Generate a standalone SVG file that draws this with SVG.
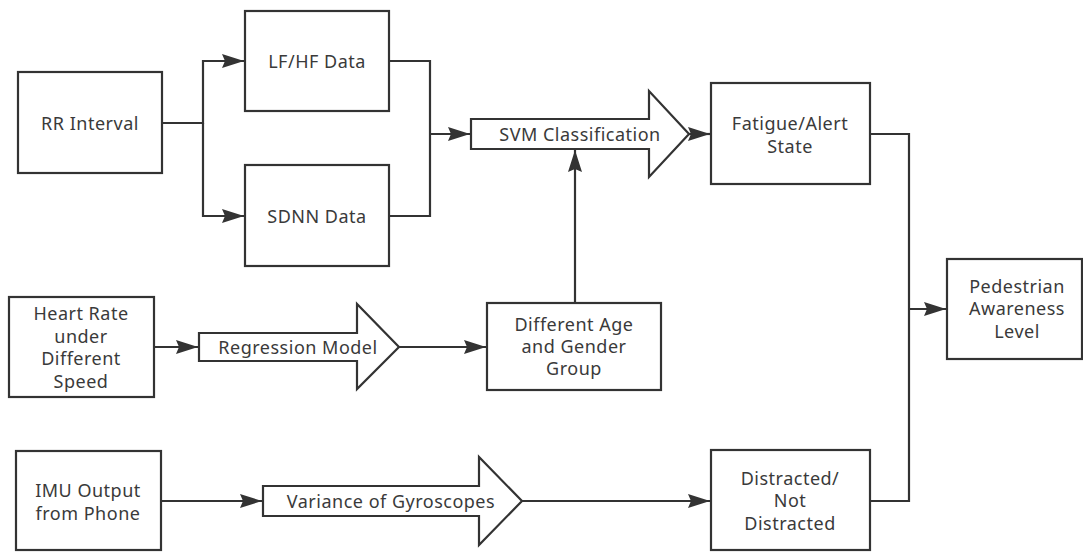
<svg xmlns="http://www.w3.org/2000/svg" width="1083" height="552" viewBox="0 0 1083 552">
<defs>
<style>
.box{fill:#fff;stroke:#333;stroke-width:2.2}
.big{fill:#fff;stroke:#333;stroke-width:2.2;stroke-linejoin:miter}
.t{font-family:"Noto Sans","Open Sans","Liberation Sans",sans-serif;font-size:18px;fill:#3a3a3a;text-anchor:middle;letter-spacing:0.5px}
.c{fill:none;stroke:#333;stroke-width:2.2}
</style>
<marker id="ah" markerUnits="userSpaceOnUse" markerWidth="26" markerHeight="18" viewBox="-22 -9 24 18" refX="0" refY="0" orient="auto">
<path d="M-22,-7 L0,0 L-22,7 L-19,0 z" fill="#333"/>
</marker>
</defs>
<rect width="1083" height="552" fill="#fff"/>
<g id="connectors">
<path class="c" d="M162,123 H203 V61 H244" marker-end="url(#ah)"/>
<path class="c" d="M203,123 V216 H244" marker-end="url(#ah)"/>
<path class="c" d="M389,61 H430 V216 H389"/>
<path class="c" d="M430,134 H470" marker-end="url(#ah)"/>
<path class="c" d="M689,134 H710" marker-end="url(#ah)"/>
<path class="c" d="M575,303 V150" marker-end="url(#ah)"/>
<path class="c" d="M154,347 H198" marker-end="url(#ah)"/>
<path class="c" d="M399,347 H486" marker-end="url(#ah)"/>
<path class="c" d="M161,501 H262" marker-end="url(#ah)"/>
<path class="c" d="M522,501 H710" marker-end="url(#ah)"/>
<path class="c" d="M870,134 H909 V501 H870"/>
<path class="c" d="M909,309 H946" marker-end="url(#ah)"/>
</g>
<g id="rr"><rect class="box" x="18" y="72" width="144" height="101"/><text class="t" x="90" y="130">RR Interval</text></g>
<g id="lfhf"><rect class="box" x="245" y="11" width="144" height="100"/><text class="t" x="317" y="68">LF/HF Data</text></g>
<g id="sdnn"><rect class="box" x="245" y="165" width="144" height="101"/><text class="t" x="317" y="223">SDNN Data</text></g>
<g id="svm"><polygon class="big" points="471,119 649,119 649,91 689,134 649,177 649,149 471,149"/><text class="t" x="580" y="141">SVM Classification</text></g>
<g id="fatigue"><rect class="box" x="711" y="83" width="159" height="101"/><text class="t" x="790" y="130">Fatigue/Alert</text><text class="t" x="790" y="153">State</text></g>
<g id="heartrate"><rect class="box" x="9" y="297" width="145" height="100"/><text class="t" x="81" y="320">Heart Rate</text><text class="t" x="81" y="343">under</text><text class="t" x="81" y="365">Different</text><text class="t" x="81" y="388">Speed</text></g>
<g id="regression"><polygon class="big" points="199,333 357,333 357,304 399,347 357,389 357,361 199,361"/><text class="t" x="298" y="354">Regression Model</text></g>
<g id="agegroup"><rect class="box" x="487" y="303" width="174" height="87"/><text class="t" x="574" y="331">Different Age</text><text class="t" x="574" y="353">and Gender</text><text class="t" x="574" y="375">Group</text></g>
<g id="imu"><rect class="box" x="16" y="451" width="145" height="99"/><text class="t" x="88" y="497">IMU Output</text><text class="t" x="88" y="520">from Phone</text></g>
<g id="variance"><polygon class="big" points="263,486 479,486 479,457 522,501 479,545 479,516 263,516"/><text class="t" x="391" y="508">Variance of Gyroscopes</text></g>
<g id="distracted"><rect class="box" x="711" y="450" width="159" height="100"/><text class="t" x="790" y="485">Distracted/</text><text class="t" x="790" y="507">Not</text><text class="t" x="790" y="530">Distracted</text></g>
<g id="pedestrian"><rect class="box" x="947" y="259" width="135" height="100"/><text class="t" x="1017" y="293">Pedestrian</text><text class="t" x="1017" y="315">Awareness</text><text class="t" x="1017" y="338">Level</text></g>
</svg>
